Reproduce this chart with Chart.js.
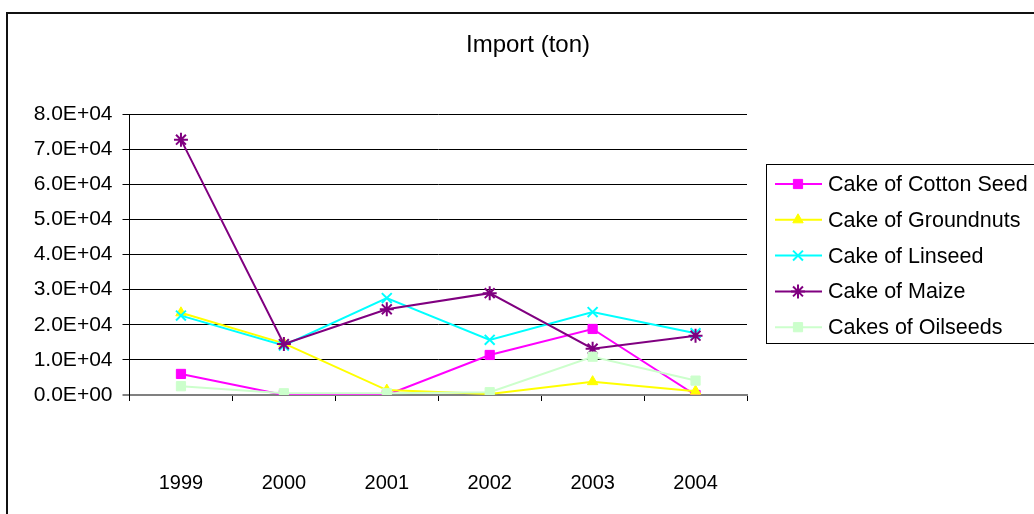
<!DOCTYPE html>
<html>
<head>
<meta charset="utf-8">
<script src="https://cdn.jsdelivr.net/npm/chart.js@4.4.1/dist/chart.umd.min.js"></script>
<style>
  html, body { margin: 0; padding: 0; background: #fff; }
  #wrap { width: 1034px; height: 514px; }
</style>
</head>
<body>
<div id="wrap"><canvas id="c" width="1034" height="514"></canvas></div>
<script>
// Import volumes (tons) of oilseed cakes, 1999-2004
const chartTitle = 'Import (ton)';
const years = ['1999', '2000', '2001', '2002', '2003', '2004'];
const seriesNames = ['Cake of Cotton Seed', 'Cake of Groundnuts', 'Cake of Linseed', 'Cake of Maize', 'Cakes of Oilseeds'];
const cottonSeed = [6000, 0, 0, 11400, 18800, 0];
const groundnuts = [23400, 14700, 1400, 300, 3800, 1100];
const linseed    = [22600, 14100, 27600, 15700, 23600, 17600];
const maize      = [72700, 14500, 24400, 29000, 13200, 16900];
const oilseeds   = [2500, 500, 500, 800, 10900, 4100];
const yTicks = { min: 0, max: 80000, step: 10000 };

const FONT = "'Liberation Sans', Arial, sans-serif";

// Scientific notation like 8.0E+04
function sci(v) {
  if (v === 0) return '0.0E+00';
  const [m, e] = v.toExponential(1).split('e');
  const n = parseInt(e, 10);
  return m + 'E' + (n < 0 ? '-' : '+') + String(Math.abs(n)).padStart(2, '0');
}

const styles = [
  { color: '#FF00FF', pointStyle: 'rect',     radius: 6.5, bw: 1 },
  { color: '#FFFF00', pointStyle: 'triangle', radius: 6,   bw: 1 },
  { color: '#00FFFF', pointStyle: 'crossRot', radius: 7,   bw: 2 },
  { color: '#800080', pointStyle: 'star',     radius: 7,   bw: 2 },
  { color: '#CCFFCC', pointStyle: 'rect',     radius: 6.5, bw: 1 }
];
const values = [cottonSeed, groundnuts, linseed, maize, oilseeds];

const datasets = values.map((vals, i) => ({
  label: seriesNames[i],
  data: vals,
  borderColor: styles[i].color,
  backgroundColor: styles[i].color,
  pointBackgroundColor: styles[i].color,
  pointBorderColor: styles[i].color,
  pointStyle: styles[i].pointStyle,
  pointRadius: styles[i].radius,
  pointHoverRadius: styles[i].radius,
  pointBorderWidth: styles[i].bw,
  borderWidth: 2,
  tension: 0,
  fill: false,
  order: values.length - 1 - i
}));

// Frame, title and legend box
const decor = {
  id: 'decor',
  beforeDraw(chart) {
    const ctx = chart.ctx;
    ctx.save();
    ctx.fillStyle = '#fff';
    ctx.fillRect(0, 0, chart.width, chart.height);
    ctx.strokeStyle = '#111';
    ctx.lineWidth = 2;
    ctx.strokeRect(7, 13, 1200, 700);
    ctx.restore();
  },
  afterDraw(chart) {
    const ctx = chart.ctx;
    ctx.save();
    ctx.fillStyle = '#000';
    ctx.font = '24px ' + FONT;
    ctx.textAlign = 'center';
    ctx.textBaseline = 'alphabetic';
    ctx.fillText(chartTitle, 528, 52);

    // legend
    ctx.strokeStyle = '#000';
    ctx.lineWidth = 1;
    ctx.strokeRect(766.5, 164.5, 400, 179);
    const drawPoint = Chart.helpers && Chart.helpers.drawPoint;
    chart.data.datasets.forEach((ds, i) => {
      const y = 184 + i * 35.8;
      ctx.strokeStyle = ds.borderColor;
      ctx.lineWidth = 2;
      ctx.beginPath();
      ctx.moveTo(775, y);
      ctx.lineTo(822, y);
      ctx.stroke();
      if (drawPoint) {
        ctx.fillStyle = ds.pointBackgroundColor;
        ctx.strokeStyle = ds.pointBorderColor;
        ctx.lineWidth = ds.pointBorderWidth;
        drawPoint(ctx, { pointStyle: ds.pointStyle, radius: ds.pointRadius, borderWidth: ds.pointBorderWidth, rotation: 0 }, 798, y);
      }
      ctx.fillStyle = '#000';
      ctx.font = '21.5px ' + FONT;
      ctx.textAlign = 'left';
      ctx.textBaseline = 'middle';
      ctx.fillText(ds.label, 828, y + 1);
    });
    ctx.restore();
  }
};

new Chart(document.getElementById('c'), {
  type: 'line',
  data: { labels: years, datasets },
  options: {
    responsive: false,
    animation: false,
    devicePixelRatio: 1,
    layout: { padding: { left: 0, right: 287, top: 114, bottom: 0 } },
    plugins: { legend: { display: false }, title: { display: false }, tooltip: { enabled: false } },
    scales: {
      x: {
        type: 'category',
        offset: true,
        grid: { offset: true, drawOnChartArea: false, drawTicks: true, tickLength: 6, color: '#000', lineWidth: 1 },
        border: { color: '#808080', width: 2 },
        ticks: { padding: 70, color: '#000', font: { family: FONT, size: 20 }, maxRotation: 0, autoSkip: false },
        afterFit(s) { s.height = 119; }
      },
      y: {
        min: yTicks.min,
        max: yTicks.max,
        ticks: { stepSize: yTicks.step, padding: 10, color: '#000', font: { family: FONT, size: 21 }, callback: v => sci(v) },
        grid: {
          color: c => (c.tick && c.tick.value === 0) ? '#808080' : '#000',
          lineWidth: c => (c.tick && c.tick.value === 0) ? 2 : 1,
          tickLength: 7,
          drawTicks: true
        },
        border: { color: '#000', width: 1 },
        afterFit(s) { s.width = 129.5; }
      }
    }
  },
  plugins: [decor]
});
</script>
</body>
</html>
